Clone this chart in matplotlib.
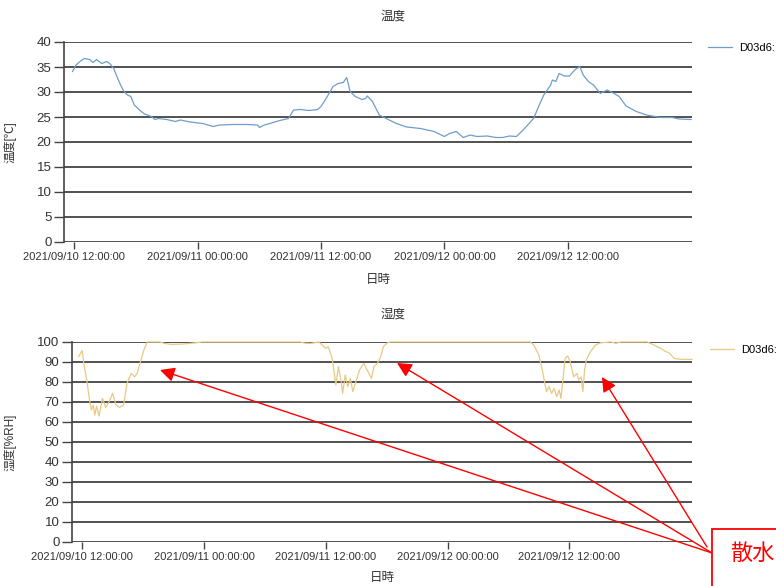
import matplotlib
matplotlib.use("Agg")
import matplotlib.pyplot as plt
import matplotlib.dates as mdates
import pandas as pd
from matplotlib.patches import Rectangle

plt.rcParams['font.family'] = ['Liberation Sans', 'Noto Sans CJK JP']

# temperature (D03d6)
temp_times = [
    "2021-09-10 11:50", "2021-09-10 12:10", "2021-09-10 12:40", "2021-09-10 13:00",
    "2021-09-10 13:30", "2021-09-10 13:50", "2021-09-10 14:10", "2021-09-10 14:40",
    "2021-09-10 15:10", "2021-09-10 15:30", "2021-09-10 15:50", "2021-09-10 16:10",
    "2021-09-10 16:30", "2021-09-10 16:50", "2021-09-10 17:10", "2021-09-10 17:30",
    "2021-09-10 17:50", "2021-09-10 18:20", "2021-09-10 18:50", "2021-09-10 19:30",
    "2021-09-10 19:50", "2021-09-10 20:10", "2021-09-10 21:00", "2021-09-10 21:50",
    "2021-09-10 22:20", "2021-09-10 23:00", "2021-09-10 23:40", "2021-09-11 00:30",
    "2021-09-11 01:30", "2021-09-11 02:10", "2021-09-11 03:30", "2021-09-11 04:50",
    "2021-09-11 05:50", "2021-09-11 06:00", "2021-09-11 06:30", "2021-09-11 07:00",
    "2021-09-11 08:00", "2021-09-11 08:50", "2021-09-11 09:20", "2021-09-11 10:00",
    "2021-09-11 10:50", "2021-09-11 11:40", "2021-09-11 12:00", "2021-09-11 12:30",
    "2021-09-11 13:10", "2021-09-11 13:40", "2021-09-11 14:10", "2021-09-11 14:30",
    "2021-09-11 14:50", "2021-09-11 15:20", "2021-09-11 16:00", "2021-09-11 16:20",
    "2021-09-11 16:30", "2021-09-11 17:00", "2021-09-11 17:40", "2021-09-11 18:20",
    "2021-09-11 19:20", "2021-09-11 20:20", "2021-09-11 21:40", "2021-09-11 23:00",
    "2021-09-12 00:00", "2021-09-12 00:30", "2021-09-12 01:10", "2021-09-12 01:50",
    "2021-09-12 02:30", "2021-09-12 03:10", "2021-09-12 04:10", "2021-09-12 05:00",
    "2021-09-12 05:40", "2021-09-12 06:20", "2021-09-12 07:00", "2021-09-12 07:40",
    "2021-09-12 08:40", "2021-09-12 09:10", "2021-09-12 09:40", "2021-09-12 10:20",
    "2021-09-12 10:30", "2021-09-12 10:50", "2021-09-12 11:10", "2021-09-12 11:40",
    "2021-09-12 12:10", "2021-09-12 12:40", "2021-09-12 13:10", "2021-09-12 13:30",
    "2021-09-12 14:00", "2021-09-12 14:30", "2021-09-12 15:10", "2021-09-12 15:50",
    "2021-09-12 16:20", "2021-09-12 17:00", "2021-09-12 17:40", "2021-09-12 18:40",
    "2021-09-12 19:40", "2021-09-12 21:00", "2021-09-12 22:10", "2021-09-12 22:50",
    "2021-09-13 00:00",
]
temp_values = [
    34.1, 35.4, 36.3, 36.7, 36.5, 35.9, 36.5, 35.7,
    36.1, 35.6, 34.7, 33.0, 31.4, 30.1, 29.4, 29.1,
    27.4, 26.4, 25.6, 25.1, 24.5, 24.7, 24.5, 24.1,
    24.4, 24.1, 23.9, 23.7, 23.1, 23.4, 23.5, 23.5,
    23.4, 22.9, 23.4, 23.7, 24.3, 24.7, 26.4, 26.5,
    26.3, 26.5, 27.1, 28.7, 31.1, 31.7, 31.9, 32.9,
    30.1, 29.1, 28.5, 28.7, 29.2, 28.1, 25.4, 24.7,
    23.7, 23.0, 22.7, 22.1, 21.1, 21.7, 22.1, 20.9,
    21.4, 21.1, 21.2, 20.9, 20.9, 21.2, 21.1, 22.4,
    24.7, 27.1, 29.4, 31.4, 32.4, 32.1, 33.7, 33.2,
    33.2, 34.4, 35.1, 33.4, 32.1, 31.4, 29.7, 30.4,
    29.9, 29.1, 27.2, 26.1, 25.4, 24.9, 24.9, 24.6,
    24.5,
]

# humidity (D03d6)
hum_times = [
    "2021-09-10 11:40", "2021-09-10 12:00", "2021-09-10 12:10", "2021-09-10 12:30",
    "2021-09-10 12:45", "2021-09-10 12:55", "2021-09-10 13:05", "2021-09-10 13:15",
    "2021-09-10 13:25", "2021-09-10 13:40", "2021-09-10 14:00", "2021-09-10 14:20",
    "2021-09-10 14:40", "2021-09-10 15:00", "2021-09-10 15:20", "2021-09-10 15:40",
    "2021-09-10 16:05", "2021-09-10 16:25", "2021-09-10 16:50", "2021-09-10 17:10",
    "2021-09-10 17:25", "2021-09-10 17:45", "2021-09-10 18:05", "2021-09-10 18:25",
    "2021-09-10 19:40", "2021-09-10 20:10", "2021-09-10 20:50", "2021-09-10 22:00",
    "2021-09-10 23:10", "2021-09-10 23:50", "2021-09-11 09:30", "2021-09-11 10:00",
    "2021-09-11 10:30", "2021-09-11 11:20", "2021-09-11 12:00", "2021-09-11 12:15",
    "2021-09-11 12:35", "2021-09-11 12:45", "2021-09-11 13:00", "2021-09-11 13:15",
    "2021-09-11 13:30", "2021-09-11 13:40", "2021-09-11 13:55", "2021-09-11 14:10",
    "2021-09-11 14:25", "2021-09-11 14:40", "2021-09-11 14:55", "2021-09-11 15:20",
    "2021-09-11 15:45", "2021-09-11 16:05", "2021-09-11 16:30", "2021-09-11 16:45",
    "2021-09-11 17:05", "2021-09-11 17:25", "2021-09-11 17:40", "2021-09-11 18:05",
    "2021-09-11 18:20", "2021-09-12 08:10", "2021-09-12 08:30", "2021-09-12 09:00",
    "2021-09-12 09:20", "2021-09-12 09:35", "2021-09-12 09:45", "2021-09-12 10:00",
    "2021-09-12 10:15", "2021-09-12 10:30", "2021-09-12 10:45", "2021-09-12 11:00",
    "2021-09-12 11:10", "2021-09-12 11:20", "2021-09-12 11:35", "2021-09-12 11:50",
    "2021-09-12 12:05", "2021-09-12 12:25", "2021-09-12 12:45", "2021-09-12 12:55",
    "2021-09-12 13:10", "2021-09-12 13:20", "2021-09-12 13:30", "2021-09-12 13:40",
    "2021-09-12 14:05", "2021-09-12 14:35", "2021-09-12 15:05", "2021-09-12 16:05",
    "2021-09-12 16:35", "2021-09-12 17:05", "2021-09-12 19:40", "2021-09-12 20:20",
    "2021-09-12 20:40", "2021-09-12 21:00", "2021-09-12 21:30", "2021-09-12 21:50",
    "2021-09-12 22:20", "2021-09-12 23:00", "2021-09-13 00:05",
]
hum_values = [
    92.7, 95.7, 89.3, 79.3, 70.2, 66.0, 68.5, 63.5,
    68.0, 63.0, 71.8, 67.3, 70.2, 74.3, 68.5, 67.3,
    68.5, 79.3, 84.3, 82.6, 84.3, 90.2, 96.0, 100.0,
    100.0, 99.2, 98.8, 99.0, 99.6, 100.0, 100.0, 99.4,
    99.3, 100.0, 96.8, 97.6, 92.7, 87.7, 78.5, 87.7,
    81.0, 74.3, 83.5, 77.7, 81.8, 75.2, 79.3, 86.0,
    89.3, 86.0, 81.8, 87.7, 89.3, 92.7, 97.6, 99.6,
    100.0, 100.0, 98.5, 93.5, 86.0, 79.3, 75.2, 77.7,
    74.3, 76.8, 72.7, 76.0, 71.8, 79.3, 91.8, 93.0,
    90.2, 82.6, 84.3, 81.0, 82.5, 75.2, 86.0, 91.0,
    95.2, 98.5, 99.6, 100.0, 99.4, 100.0, 100.0, 98.5,
    97.6, 96.8, 95.2, 94.6, 91.8, 91.3, 91.3,
]

x_ticks = ["2021-09-10 12:00", "2021-09-11 00:00", "2021-09-11 12:00",
           "2021-09-12 00:00", "2021-09-12 12:00"]
x_tick_labels = ["2021/09/10 12:00:00", "2021/09/11 00:00:00", "2021/09/11 12:00:00",
                 "2021/09/12 00:00:00", "2021/09/12 12:00:00"]
x_range = ["2021-09-10 11:00", "2021-09-13 00:05"]
temp_ticks = [0, 5, 10, 15, 20, 25, 30, 35, 40]
hum_ticks = [0, 10, 20, 30, 40, 50, 60, 70, 80, 90, 100]

W, H = 776, 586
fig = plt.figure(figsize=(W / 100, H / 100), dpi=100)
fig.patch.set_facecolor('white')

text_col = '#333333'
grid_col = '#222222'


def setup(ax, ticks, ylabel, title, title_y, xlabel_y, ylabel_x):
    ax.set_xlim(pd.to_datetime(x_range[0]), pd.to_datetime(x_range[1]))
    ax.set_ylim(ticks[0], ticks[-1])
    ax.set_yticks(ticks)
    ax.set_xticks(pd.to_datetime(x_ticks))
    ax.set_xticklabels(x_tick_labels)
    for s in ['top', 'right', 'bottom']:
        ax.spines[s].set_visible(False)
    ax.spines['left'].set_color('#444444')
    ax.spines['left'].set_linewidth(1.2)
    ax.yaxis.grid(True, color=grid_col, linewidth=1.1)
    ax.set_axisbelow(True)
    ax.tick_params(axis='y', length=7, width=1, color='#444444', labelsize=9.5,
                   labelcolor=text_col, pad=2)
    ax.tick_params(axis='x', length=5, width=1, color='#444444', labelsize=8,
                   labelcolor=text_col, pad=2)
    # title / labels placed in figure pixels
    fig.text(393 / W, 1 - title_y / H, title, ha='center', va='center',
             fontsize=9, color=text_col)
    bb = ax.get_position()
    fig.text((bb.x0 + bb.x1) / 2, 1 - xlabel_y / H, '日時', ha='center', va='center',
             fontsize=9, color=text_col)
    fig.text(ylabel_x / W, (bb.y0 + bb.y1) / 2, ylabel, ha='center', va='center',
             rotation=90, fontsize=8.5, color=text_col)


# temperature panel
ax1 = fig.add_axes([64 / W, 1 - 242 / H, (692 - 64) / W, 200 / H])
ax1.plot(pd.to_datetime(temp_times), temp_values, color='#6f9dcc', linewidth=0.9,
         label='D03d6:')
setup(ax1, temp_ticks, '温度[℃]', '温度', 17, 280, 10)
ax1.legend(loc='center left', bbox_to_anchor=(708 / W, 1 - 48 / H),
           bbox_transform=fig.transFigure, frameon=False, fontsize=8,
           handlelength=2.2, handletextpad=0.6, borderaxespad=0, borderpad=0)

# humidity panel
ax2 = fig.add_axes([72 / W, 1 - 542 / H, (692 - 72) / W, 200 / H])
ax2.plot(pd.to_datetime(hum_times), hum_values, color='#e8c983', linewidth=0.9,
         label='D03d6:', clip_on=False)
setup(ax2, hum_ticks, '湿度[%RH]', '湿度', 315, 578, 10)
ax2.legend(loc='center left', bbox_to_anchor=(710 / W, 1 - 350 / H),
           bbox_transform=fig.transFigure, frameon=False, fontsize=8,
           handlelength=2.2, handletextpad=0.6, borderaxespad=0, borderpad=0)

# red callout
fig.add_artist(Rectangle((712, -20), 120, 77, transform=None, facecolor='white',
                         edgecolor='red', linewidth=1.3, zorder=5))
fig.text(730 / W, 32 / H, '散水', color='red', fontsize=16, ha='left', va='center',
         zorder=6)
tips = [(160, 216), (397, 223), (602, 209)]
tails = [(712, 33), (712, 33), (707, 39)]
for tip, tail in zip(tips, tails):
    ax2.annotate('', xy=tip, xycoords='figure pixels', xytext=tail,
                 textcoords='figure pixels',
                 arrowprops=dict(arrowstyle='-|>', color='red', lw=1.0,
                                 mutation_scale=22, shrinkA=0, shrinkB=0),
                 annotation_clip=False)

fig.savefig('out.png', dpi=100)
